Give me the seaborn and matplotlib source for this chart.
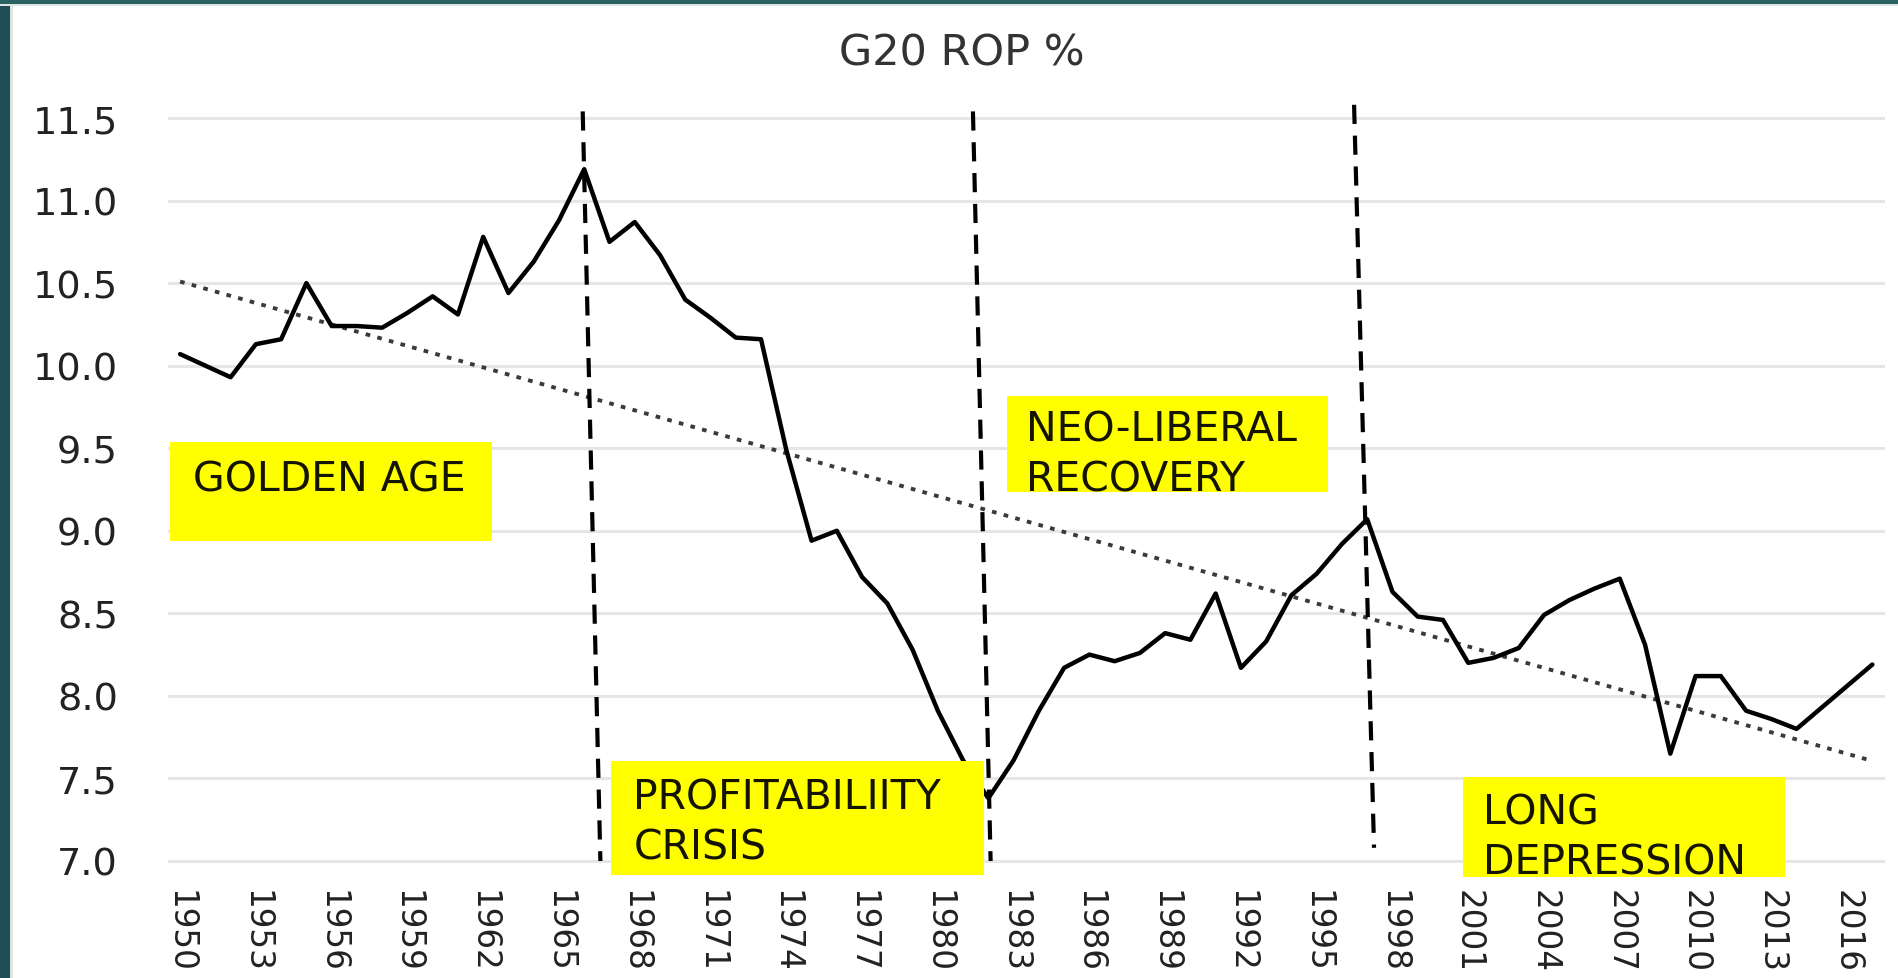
import numpy as np
import matplotlib
matplotlib.use("Agg")
import matplotlib.pyplot as plt
from matplotlib.patches import Rectangle
import seaborn as sns

# G20 rate of profit, 1950-2017
years = list(range(1950, 2018))
rop = [10.07, 10.00, 9.93, 10.13, 10.16, 10.50, 10.24, 10.24, 10.23, 10.32,
       10.42, 10.31, 10.78, 10.44, 10.63, 10.88, 11.19, 10.75, 10.87, 10.67,
       10.40, 10.29, 10.17, 10.16, 9.49, 8.94, 9.00, 8.72, 8.56, 8.28,
       7.91, 7.61, 7.38, 7.61, 7.91, 8.17, 8.25, 8.21, 8.26, 8.38,
       8.34, 8.62, 8.17, 8.33, 8.61, 8.74, 8.92, 9.07, 8.63, 8.48,
       8.46, 8.20, 8.23, 8.29, 8.49, 8.58, 8.65, 8.71, 8.31, 7.65,
       8.12, 8.12, 7.91, 7.86, 7.80, 7.93, 8.06, 8.19]

x_ticks = years[::3]
y_ticks = [7.0, 7.5, 8.0, 8.5, 9.0, 9.5, 10.0, 10.5, 11.0, 11.5]

# hand drawn period breaks (slightly slanted dashed lines)
break_x_top = [1965.94, 1981.39, 1996.48]
break_x_bottom = [1966.64, 1982.09, 1997.27]
break_top = [11.54, 11.54, 11.58]
break_bottom = [7.0, 7.0, 7.08]

# yellow period labels
period_lines = [["GOLDEN AGE"], ["PROFITABILIITY", "CRISIS"],
                ["NEO-LIBERAL", "RECOVERY"], ["LONG", "DEPRESSION"]]
box_x0 = [1949.6, 1967.06, 1982.74, 2000.8]
box_x1 = [1962.35, 1981.83, 1995.45, 2013.54]
box_y0 = [8.94, 6.918, 9.236, 6.905]
box_y1 = [9.539, 7.608, 9.817, 7.511]
text_x = [1950.5, 1967.95, 1983.49, 2001.6]
text_base = [9.242, 7.317, 9.545, 7.226]
line_step = 0.302

sns.set_theme(style="white")
plt.rcParams['font.family'] = ['DejaVu Sans']

fig = plt.figure(figsize=(18.98, 9.79), dpi=100)
ax = fig.add_axes([0.0885, 0.11614, 0.99315 - 0.0885, 0.88182 - 0.11614])

sns.lineplot(x=years, y=rop, color='black', lw=3.2, ax=ax, zorder=3)
sns.regplot(x=np.array(years), y=np.array(rop), scatter=False, ci=None, ax=ax,
            line_kws=dict(color='#3a3a3a', lw=2.8, dashes=(1.2, 1.9),
                          dash_capstyle='butt', zorder=2))

for xt, xb, yt, yb in zip(break_x_top, break_x_bottom, break_top, break_bottom):
    ax.plot([xt, xb], [yt, yb], color='black', lw=3.0, dashes=(4.6, 2.8),
            clip_on=False, zorder=4)

for lines, x0, x1, y0, y1, tx, tb in zip(period_lines, box_x0, box_x1, box_y0,
                                         box_y1, text_x, text_base):
    ax.add_patch(Rectangle((x0, y0), x1 - x0, y1 - y0, facecolor='#ffff00',
                           edgecolor='none', clip_on=False, zorder=5))
    for i, txt in enumerate(lines):
        ax.text(tx, tb - i * line_step, txt, fontsize=29.5, color='#141400',
                ha='left', va='baseline', zorder=6, clip_on=False)

ax.set_xlim(1949.52, 2017.5)
ax.set_ylim(6.98, 11.52)
ax.set_xticks(x_ticks)
ax.set_xticklabels([str(y) for y in x_ticks])
ax.set_yticks(y_ticks)
ax.set_yticklabels([f"{v:.1f}" for v in y_ticks])
ax.yaxis.grid(True, color='#e6e6e6', lw=2.2)
ax.xaxis.grid(False)
ax.set_axisbelow(True)
ax.tick_params(axis='x', labelrotation=270, pad=18, labelsize=23.5, length=0,
               labelcolor='#222222')
ax.tick_params(axis='y', pad=36, labelsize=27.5, length=0, labelcolor='#222222')
ax.set_xlabel('')
ax.set_ylabel('')
sns.despine(ax=ax, left=True, bottom=True)

fig.text(962 / 1898, 1 - 65 / 979, "G20 ROP %", ha='center', va='baseline',
         fontsize=31, color='#333333')

# dark slide frame on the left and top edges
fig.patches.append(Rectangle((0, 0), 10 / 1898, 1, transform=fig.transFigure,
                             facecolor='#1f4d55', edgecolor='none'))
fig.patches.append(Rectangle((10 / 1898, 0), 3 / 1898, 1, transform=fig.transFigure,
                             facecolor='#dde5e5', edgecolor='none'))
fig.patches.append(Rectangle((0, 1 - 5 / 979), 1, 5 / 979, transform=fig.transFigure,
                             facecolor='#2a6262', edgecolor='none'))
fig.patches.append(Rectangle((0, 1 - 7 / 979), 1, 2 / 979, transform=fig.transFigure,
                             facecolor='#dde5e5', edgecolor='none'))

fig.savefig('out.png', dpi=100)
